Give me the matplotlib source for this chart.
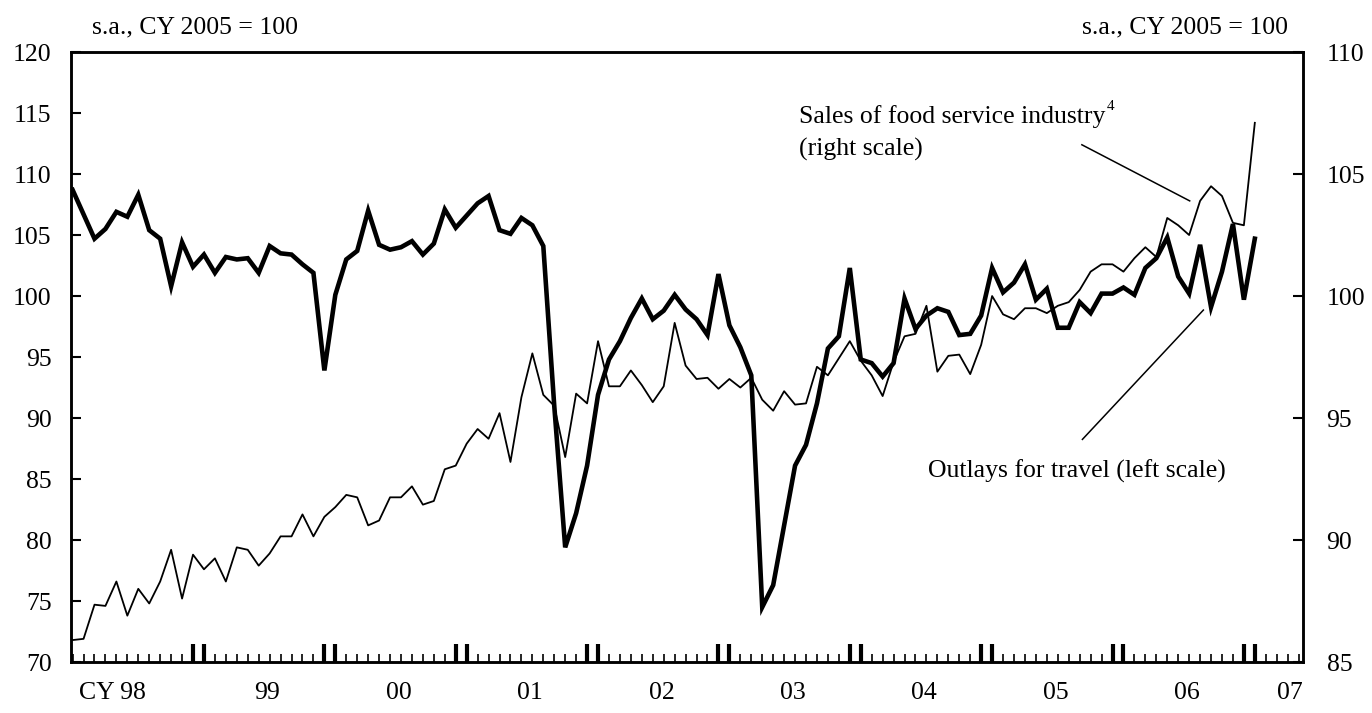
import matplotlib
matplotlib.use("Agg")
import matplotlib.pyplot as plt
import matplotlib.transforms as mtransforms
import numpy as np

plt.rcParams['font.family'] = ['Liberation Serif', 'DejaVu Serif']
plt.rcParams['font.size'] = 18.5

# monthly data, Jan 1998 - Jan 2007
# outlays for travel (left scale)
travel = [108.7, 106.7, 104.7, 105.5, 106.9, 106.5, 108.3, 105.4, 104.7, 100.8, 104.4, 102.4,
          103.4, 101.9, 103.2, 103.0, 103.1, 101.9, 104.1, 103.5, 103.4, 102.6, 101.9, 93.9,
          100.1, 103.0, 103.7, 107.0, 104.2, 103.8, 104.0, 104.5, 103.4, 104.3, 107.1, 105.6,
          106.6, 107.6, 108.2, 105.4, 105.1, 106.4, 105.8, 104.1, 91.0, 79.4, 82.2, 86.1,
          91.9, 94.8, 96.3, 98.2, 99.8, 98.1, 98.8, 100.1, 98.9, 98.1, 96.8, 101.8,
          97.6, 95.8, 93.5, 74.5, 76.3, 81.2, 86.1, 87.8, 91.2, 95.7, 96.7, 102.3,
          94.8, 94.5, 93.4, 94.5, 99.8, 97.3, 98.4, 99.0, 98.7, 96.8, 96.9, 98.4,
          102.3, 100.3, 101.1, 102.6, 99.7, 100.6, 97.4, 97.4, 99.5, 98.6, 100.2, 100.2,
          100.7, 100.1, 102.3, 103.1, 104.8, 101.6, 100.2, 104.2, 99.1, 102.0, 105.9, 99.7,
          104.7]

# sales of food service industry (right scale)
food = [85.9, 85.95, 87.35, 87.3, 88.3, 86.9, 88.0, 87.4, 88.3, 89.6, 87.6, 89.4,
        88.8, 89.25, 88.3, 89.7, 89.6, 88.95, 89.45, 90.15, 90.15, 91.05, 90.15, 90.95,
        91.35, 91.85, 91.75, 90.6, 90.8, 91.75, 91.75, 92.2, 91.45, 91.6, 92.9, 93.05,
        93.95, 94.55, 94.15, 95.2, 93.2, 95.85, 97.65, 95.95, 95.5, 93.4, 96.0, 95.6,
        98.15, 96.3, 96.3, 96.95, 96.35, 95.65, 96.3, 98.9, 97.15, 96.6, 96.65, 96.2,
        96.6, 96.25, 96.65, 95.75, 95.3, 96.1, 95.55, 95.6, 97.1, 96.75, 97.45, 98.15,
        97.35, 96.75, 95.9, 97.3, 98.35, 98.45, 99.6, 96.9, 97.55, 97.6, 96.8, 98.0,
        100.0, 99.25, 99.05, 99.5, 99.5, 99.3, 99.6, 99.75, 100.25, 101.0, 101.3, 101.3,
        101.0, 101.55, 102.0, 101.6, 103.2, 102.9, 102.5, 103.9, 104.5, 104.1, 103.0, 102.9,
        107.1]

year_labels = ["CY 98", "99", "00", "01", "02", "03", "04", "05", "06", "07"]
left_ticks = [70, 75, 80, 85, 90, 95, 100, 105, 110, 115, 120]
right_ticks = [85, 90, 95, 100, 105, 110]

months = np.arange(len(travel))

fig = plt.figure(figsize=(13.72, 7.13), dpi=100)
ax = fig.add_axes([0.0518, 0.0715, 0.8979, 0.8555])
ax2 = ax.twinx()

ax2.plot(months, food, color='black', lw=1.3)
ax.plot(months, travel, color='black', lw=3.3, solid_joinstyle='miter')

# thick line on top
ax.set_zorder(ax2.get_zorder() + 1)
ax.patch.set_visible(False)

ax.set_xlim(-0.14, 112.4)
ax.set_ylim(70, 120)
ax2.set_ylim(85, 110)

ax.set_yticks(left_ticks)
ax2.set_yticks(right_ticks)
ax.tick_params(axis='y', direction='in', length=7, width=1.5, pad=14, labelsize=18.5)
ax2.tick_params(axis='y', direction='in', length=7, width=1.5, pad=17, labelsize=18.5)

# month ticks, tall double ticks at Dec/Jan
n_ticks = 113
year_break = [m for m in range(n_ticks) if m % 12 in (11, 0) and m > 0]
ax.set_xticks(year_break)
ax.set_xticks([m for m in range(n_ticks) if m not in year_break], minor=True)
ax.tick_params(axis='x', which='major', direction='in', length=13, width=3, labelbottom=False)
ax.tick_params(axis='x', which='minor', direction='in', length=6, width=1.2)

for sp in list(ax.spines.values()) + list(ax2.spines.values()):
    sp.set_linewidth(1.8)

trans = mtransforms.blended_transform_factory(ax.transData, ax.transAxes)
year_pos = [3.6] + [12 * k + 5.8 for k in range(1, 9)] + [111.2]
for pos, lab in zip(year_pos, year_labels):
    ax.text(pos, -0.051, lab, transform=trans, ha='center', va='center', fontsize=18.5)

fig.text(92 / 1372, 1 - 27 / 713, "s.a., CY 2005 = 100", ha='left', va='center', fontsize=18.5)
fig.text(1288 / 1372, 1 - 27 / 713, "s.a., CY 2005 = 100", ha='right', va='center', fontsize=18.5)

# annotations
t1 = ax.text(66.4, 114.7, "Sales of food service industry", ha='left', va='center', fontsize=18.5)
ax.annotate("4", xy=(1.0, 0.95), xycoords=t1, xytext=(1, 0), textcoords='offset points',
            ha='left', va='center', fontsize=11)
ax.text(66.4, 112.0, "(right scale)", ha='left', va='center', fontsize=18.5)
ax.plot([92.2, 102.05], [112.4, 107.8], color='black', lw=1.1)

ax.text(78.1, 85.6, "Outlays for travel (left scale)", ha='left', va='center', fontsize=18.5)
ax.plot([92.25, 103.3], [88.25, 98.85], color='black', lw=1.1)

fig.savefig("out.png", dpi=100)
